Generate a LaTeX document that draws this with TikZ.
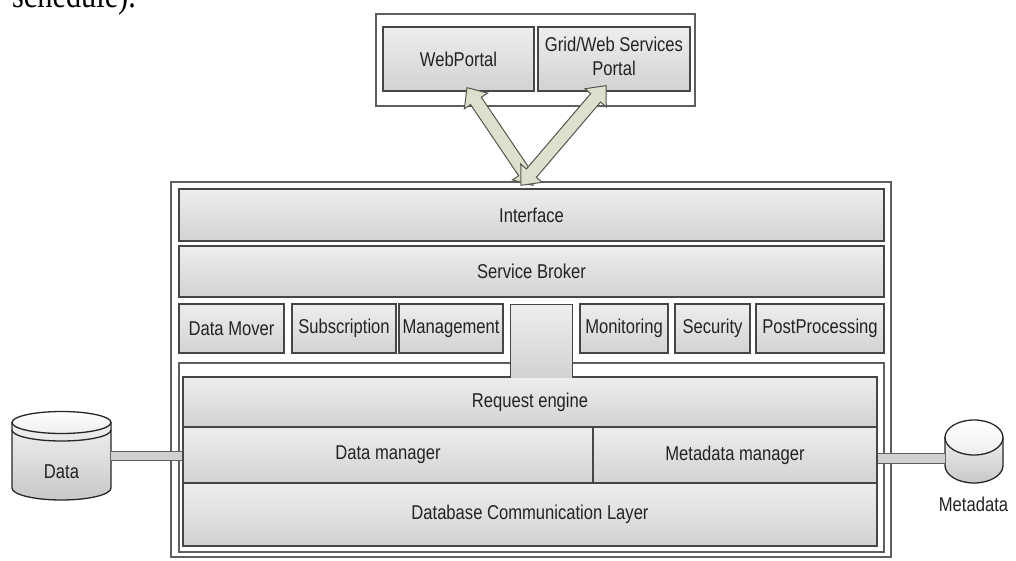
\documentclass[tikz,border=0pt]{standalone}
\usepackage{fontspec}
\setmainfont[FakeStretch=0.83]{Liberation Sans}
\newfontfamily\bodyserif[FakeStretch=0.83]{Liberation Serif}
\usetikzlibrary{calc}

\definecolor{boxline}{RGB}{70,70,70}
\definecolor{frameline}{RGB}{95,95,95}
\definecolor{boxtop}{RGB}{238,238,238}
\definecolor{boxbottom}{RGB}{210,210,210}
\definecolor{labeltext}{RGB}{35,35,35}
\definecolor{arrowfill}{RGB}{221,224,204}
\definecolor{arrowline}{RGB}{85,85,80}
\definecolor{barfill}{RGB}{208,208,208}
\definecolor{cyltop}{RGB}{240,240,240}
\definecolor{cylbottom}{RGB}{200,200,200}

\tikzset{
  frame/.style={draw=frameline, line width=1.3pt, fill=white, inner sep=0pt},
  layer/.style={draw=boxline, line width=1.3pt, top color=boxtop, bottom color=boxbottom,
    inner sep=0pt, text=labeltext, font=\fontsize{20}{24}\selectfont},
  blank/.style={top color=boxtop, bottom color=boxbottom, inner sep=0pt},
  edge3/.style={draw=boxline, line width=1.3pt},
  dblabel/.style={text=labeltext, font=\fontsize{20}{24}\selectfont, inner sep=0pt},
  cylbody/.style={draw=black!85, line width=1.3pt, top color=cyltop, bottom color=cylbottom},
  cyllid/.style={draw=black!85, line width=1.3pt, top color=white, bottom color=boxtop},
  connbar/.style={draw=frameline, line width=0.9pt, double=barfill, double distance=8.5pt},
  arrowbody/.style={draw=arrowline, line width=1pt, fill=arrowfill, line join=miter}
}

% rectangle node given by its corners: style, name, x1, y1, x2, y2, text
\newcommand\cornerbox[7]{%
  \node[#1, minimum width={(#5-#3)*1pt}, minimum height={(#6-#4)*1pt}]
    (#2) at ({(#3+#5)/2},{(#4+#6)/2}) {#7};}

% block arrow with a head at both ends, from #1 to #2
\newcommand\blockarrow[2]{%
  \coordinate (ba1) at ($(#1)!16pt!(#2)$);
  \coordinate (ba2) at ($(#2)!16pt!(#1)$);
  \draw[arrowbody] (#1)
    -- ($(ba1)!14pt!90:(#2)$) -- ($(ba1)!6.5pt!90:(#2)$)
    -- ($(ba2)!6.5pt!-90:(#1)$) -- ($(ba2)!14pt!-90:(#1)$)
    -- (#2)
    -- ($(ba2)!14pt!90:(#1)$) -- ($(ba2)!6.5pt!90:(#1)$)
    -- ($(ba1)!6.5pt!-90:(#2)$) -- ($(ba1)!14pt!-90:(#2)$)
    -- cycle;}

\begin{document}
\begin{tikzpicture}[x=1pt, y=-1pt]
\useasboundingbox (0,0) rectangle (1016,561);
\clip (0,0) rectangle (1016,561);

% end of the running text above the figure
\node[anchor=base west, inner sep=0pt, font=\bodyserif\fontsize{36.5}{40}\selectfont]
  (runin) at (12,8) {schedule).};

% portals
\cornerbox{frame}{portalframe}{376}{14}{695}{106}{}
\cornerbox{layer}{webportal}{383}{27}{534}{91}{WebPortal}
\cornerbox{layer}{gridportal}{538}{27}{690}{91}%
  {\begin{tabular}{@{}c@{}}Grid/Web Services\\Portal\end{tabular}}

% main system
\cornerbox{frame}{mainframe}{171}{182}{891}{557}{}
\cornerbox{layer}{interface}{179}{189}{884}{241}{Interface}
\cornerbox{layer}{broker}{179}{246}{884}{297}{Service Broker}

\cornerbox{layer}{datamover}{179}{304}{284}{353}{Data Mover}
\cornerbox{layer}{subscription}{292}{304}{396}{353}{Subscription}
\cornerbox{layer}{management}{399}{304}{503}{353}{Management}
\cornerbox{layer}{monitoring}{580}{304}{668}{353}{Monitoring}
\cornerbox{layer}{security}{675}{304}{750}{353}{Security}
\cornerbox{layer}{postproc}{756}{304}{884}{353}{PostProcessing}

% core
\cornerbox{frame}{coreframe}{179}{363}{884}{552}{}
\cornerbox{layer}{request}{183}{377}{877}{427}{Request engine}
\cornerbox{layer}{datamgr}{183}{427}{593}{483}{Data manager}
\cornerbox{layer}{metamgr}{593}{427}{877}{483}{Metadata manager}
\cornerbox{layer}{dcl}{183}{483}{877}{546}{Database Communication Layer}

% passage from the broker level down to the request engine
\cornerbox{blank}{passage}{511}{305}{572}{377}{}
\draw[edge3] (passage.south west) -- (passage.north west)
  -- (passage.north east) -- (passage.south east);

% Data store
\path[cylbody] (12,422.5) -- (12,488)
  arc[start angle=180, end angle=360, x radius=49.5pt, y radius=12pt]
  -- (111,422.5) -- cycle;
\path[cyllid] (61.5,422.5) ellipse [x radius=49.5pt, y radius=11pt];
\draw[draw=black!85, line width=1.3pt] (12,430)
  arc[start angle=180, end angle=360, x radius=49.5pt, y radius=11pt];
\node[dblabel] (data) at (61.5,472) {Data};
\coordinate (dataport) at (111,456);

% Metadata store
\path[cylbody] (945,437.5) -- (945,465.5)
  arc[start angle=180, end angle=360, x radius=29pt, y radius=17.5pt]
  -- (1003,437.5) -- cycle;
\path[cyllid] (974,437.5) ellipse [x radius=29pt, y radius=17.5pt];
\node[dblabel] (metadata) at (973.5,504) {Metadata};
\coordinate (metaport) at (945,458.5);

% links to the stores
\draw[connbar] (dataport) -- (datamgr.west |- dataport);
\draw[connbar] (metamgr.east |- metaport) -- (metaport);

% interface <-> portals
\coordinate (wpTip) at ($(webportal.south)+(8.5,-4)$);
\coordinate (gpTip) at ($(gridportal.south)+(-8,-6)$);
\coordinate (ifTipL) at ($(interface.north)+(1.5,-3)$);
\coordinate (ifTipR) at ($(interface.north)+(-10.5,-3)$);
\blockarrow{wpTip}{ifTipL}
\blockarrow{gpTip}{ifTipR}
\end{tikzpicture}
\end{document}
